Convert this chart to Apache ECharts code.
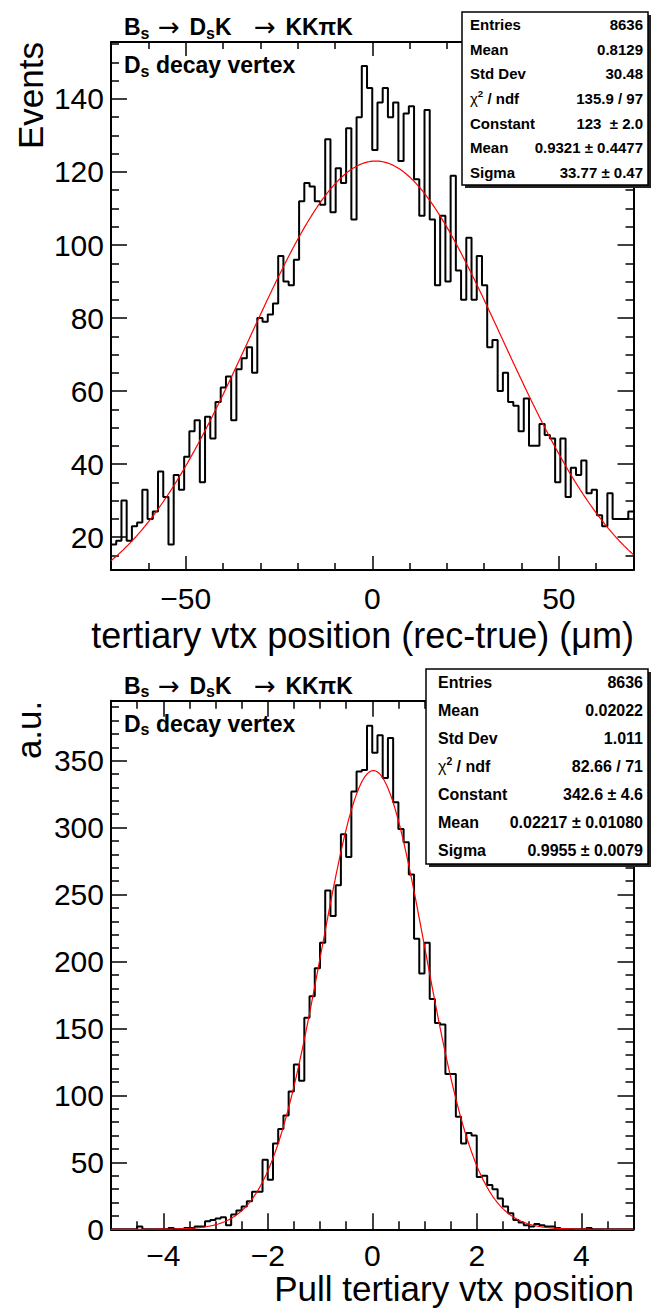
<!DOCTYPE html>
<html><head><meta charset="utf-8">
<script src="https://cdn.jsdelivr.net/npm/echarts@6/dist/echarts.min.js"></script>
<style>html,body{margin:0;padding:0;background:#fff}#c{width:654px;height:1308px}</style>
</head><body><div id="c"></div>
<script>
// ---------- data ----------
const topXRange = [-70, 70];
const topYRange = [11, 155.6];
const topCounts = [18,19,30,19,23,24,33,25,27,38, 31,18,37,33,42,49,52,35,53,47,
  57,61,64,52,66,69,72,65,80,79, 81,84,97,90,89,96,112,117,116,112,
  111,129,109,121,117,132,107,135,149,143, 126,139,143,135,139,123,136,138,118,108,
  137,107,89,108,90,119,93,85,102,85, 97,89,72,74,60,65,57,56,49,58,
  45,45,51,48,47,35,47,31,39,37, 41,32,33,26,23,32,25,25,25,27];
const topFitParams = [123, 0.9321, 33.77];   // Constant, Mean, Sigma
const topXMajor = [-50, 0, 50];
const topXMinor = [-60, -40, -30, -20, -10, 10, 20, 30, 40, 60];
const topYMajor = [20, 40, 60, 80, 100, 120, 140];
const topYMinor = [15,25,30,35,45,50,55,65,70,75,85,90,95,105,110,115,125,130,135,145,150,155];
const topStatLabels = ['Entries', 'Mean', 'Std Dev', 'CHI', 'Constant', 'Mean', 'Sigma'];
const topStatValues = ['8636', '0.8129', '30.48', '135.9 / 97', '123  \u00b1 2.0', '0.9321 \u00b1 0.4477', '33.77 \u00b1 0.47'];

const botXRange = [-5, 5];
const botYRange = [0, 394.8];
const botCounts = [0,0,0,0,0,2,0,0,0,0, 0,1,0,0,1,1,2,2,6,7,
  8,9,3,11,14,17,21,28,28,52, 37,64,75,85,103,123,111,158,174,195,
  214,253,234,257,295,278,327,342,343,376, 356,369,337,367,319,299,289,265,217,191,
  214,172,154,153,116,116,84,64,72,70, 39,40,33,30,23,17,12,7,5,3,
  2,4,3,2,2,1,0,0,0,0, 0,1,0,0,0,0,0,0,0,0];
const botFitParams = [342.6, 0.02217, 0.9955];
const botXMajor = [-4, -2, 0, 2, 4];
const botXMinor = [-4.5,-3.5,-3,-2.5,-1.5,-1,-0.5,0.5,1,1.5,2.5,3,3.5,4.5];
const botYMajor = [0, 50, 100, 150, 200, 250, 300, 350];
const botYMinor = [10,20,30,40,60,70,80,90,110,120,130,140,160,170,180,190,210,220,230,240,260,270,280,290,310,320,330,340,360,370,380,390];
const botStatLabels = ['Entries', 'Mean', 'Std Dev', 'CHI', 'Constant', 'Mean', 'Sigma'];
const botStatValues = ['8636', '0.02022', '1.011', '82.66 / 71', '342.6 \u00b1 4.6', '0.02217 \u00b1 0.01080', '0.9955 \u00b1 0.0079'];

const topXTitle = 'tertiary vtx position (rec-true) (\u03bcm)';
const topYTitle = 'Events';
const botXTitle = 'Pull tertiary vtx position';
const botYTitle = 'a.u.';

// ---------- helpers ----------
const FONT = 'Liberation Sans';
const mctx = document.createElement('canvas').getContext('2d');
function tw(t, size, weight, fam) { mctx.font = weight + ' ' + size + 'px "' + (fam || FONT) + '"'; return mctx.measureText(t).width; }
function fmt(v) { return String(v).replace('-', '\u2212'); }

function histPts(range, counts) {
  const w = (range[1] - range[0]) / counts.length;
  const pts = counts.map((c, i) => [range[0] + i * w, c]);
  pts.push([range[1], counts[counts.length - 1]]);
  return pts;
}
function fitPts(range, p) {
  const pts = [], n = 600;
  for (let i = 0; i <= n; i++) {
    const x = range[0] + (range[1] - range[0]) * i / n;
    const z = (x - p[1]) / p[2];
    pts.push([x, p[0] * Math.exp(-0.5 * z * z)]);
  }
  return pts;
}

function xAx(gi, range, pos, ticks, len, labels, line, margin) {
  return {
    type: 'value', gridIndex: gi, min: range[0], max: range[1], position: pos,
    axisLine: { show: line, onZero: false, lineStyle: { color: '#000', width: 2 } },
    axisTick: { show: true, inside: true, length: len, customValues: ticks, lineStyle: { color: '#000', width: 1.5 } },
    axisLabel: labels ? { show: true, customValues: labels, formatter: fmt, color: '#000', fontSize: 30, lineHeight: 24, fontFamily: FONT, margin: margin } : { show: false },
    splitLine: { show: false }, minorTick: { show: false }
  };
}
function yAx(gi, range, pos, ticks, len, labels, line) {
  return {
    type: 'value', gridIndex: gi, min: range[0], max: range[1], position: pos,
    axisLine: { show: line, onZero: false, lineStyle: { color: '#000', width: 2 } },
    axisTick: { show: true, inside: true, length: len, customValues: ticks, lineStyle: { color: '#000', width: 1.5 } },
    axisLabel: labels ? { show: true, customValues: labels, formatter: fmt, color: '#000', fontSize: 30, fontFamily: FONT, margin: 7 } : { show: false },
    splitLine: { show: false }, minorTick: { show: false }
  };
}

const els = [];
function txt(x, y, t, size, weight, align, valign, z, extra, fam, lh) {
  const st = { text: t, fontSize: size, fontWeight: weight, fontFamily: fam || FONT, fill: '#000',
      align: align, textAlign: align, verticalAlign: valign, textVerticalAlign: valign };
  if (lh) st.lineHeight = lh;
  const e = { type: 'text', x: x, y: y, z: z || 101, silent: true, style: st };
  if (extra) Object.assign(e, extra);
  els.push(e);
}
function seq(x, y, pieces) {
  let cx = x;
  pieces.forEach(p => {
    if (p.x !== undefined) cx = p.x;
    txt(cx, y + (p.dy || 0), p.t, p.size, p.weight || 'normal', 'left', 'middle', 101, null, p.fam);
    cx += tw(p.t, p.size, p.weight || 'normal', p.fam);
  });
}
function titleBlock(dy) {
  const B = 'bold', S = 23, s = 16, AF = 'DejaVu Sans';
  seq(124, 27 + dy, [
    { t: 'B', size: S, weight: B }, { t: 's', size: s, weight: B, dy: 6 },
    { t: '\u2192', size: 26, fam: AF, x: 158 },
    { t: ' D', size: S, weight: B, x: 183 }, { t: 's', size: s, weight: B, dy: 6 },
    { t: 'K', size: S, weight: B },
    { t: '\u2192', size: 26, fam: AF, x: 254 }, { t: ' KK\u03c0K', size: S, weight: B, x: 279 }
  ]);
  seq(124, 65 + dy, [
    { t: 'D', size: S, weight: B }, { t: 's', size: s, weight: B, dy: 6 },
    { t: ' decay vertex', size: S, weight: B }
  ]);
}
function statBox(x0, y0, x1, y1, labels, values, size, labelX) {
  els.push({ type: 'rect', z: 98, silent: true, shape: { x: x0 + 3, y: y0 + 3, width: x1 - x0, height: y1 - y0 }, style: { fill: '#222' } });
  els.push({ type: 'rect', z: 99, silent: true, shape: { x: x0, y: y0, width: x1 - x0, height: y1 - y0 }, style: { fill: '#fff', stroke: '#000', lineWidth: 1.5 } });
  const h = (y1 - y0) / labels.length;
  labels.forEach((l, k) => {
    const cy = y0 + h * (k + 0.5);
    if (l === 'CHI') {
      seq(labelX, cy, [{ t: '\u03c7', size: size }, { t: '2', size: size * 0.65, weight: 'bold', dy: -5 }, { t: ' / ndf', size: size, weight: 'bold' }]);
    } else {
      txt(labelX, cy, l, size, 'bold', 'left', 'middle');
    }
    txt(x1 - 5, cy, values[k], size, 'bold', 'right', 'middle');
  });
}

// ---------- layout pieces ----------
titleBlock(0);
titleBlock(658.5);
statBox(462, 12, 648, 185, topStatLabels, topStatValues, 15, 470);
statBox(426, 669, 648, 864, botStatLabels, botStatValues, 16, 438);
txt(30.5, 42, topYTitle, 35, 'normal', 'right', 'middle', 101, { rotation: Math.PI / 2 });
txt(28.5, 700.7, botYTitle, 35, 'normal', 'right', 'middle', 101, { rotation: Math.PI / 2 });
txt(634, 635.5, topXTitle, 36, 'normal', 'right', 'middle', 101, null, null, 30);
txt(634, 1288.5, botXTitle, 35, 'normal', 'right', 'middle', 101, null, null, 30);

const option = {
  animation: false,
  backgroundColor: '#fff',
  grid: [
    { left: 111, top: 42, width: 522.5, height: 528, show: false },
    { left: 111, top: 700.7, width: 522.5, height: 528.6, show: false }
  ],
  xAxis: [
    xAx(0, topXRange, 'bottom', topXMajor, 14, topXMajor, true, 16.5),
    xAx(0, topXRange, 'bottom', topXMinor, 7, null, false),
    xAx(0, topXRange, 'top', topXMajor, 14, null, true),
    xAx(0, topXRange, 'top', topXMinor, 7, null, false),
    xAx(1, botXRange, 'bottom', botXMajor, 16, botXMajor, true, 14.5),
    xAx(1, botXRange, 'bottom', botXMinor, 8, null, false),
    xAx(1, botXRange, 'top', botXMajor, 16, null, true),
    xAx(1, botXRange, 'top', botXMinor, 8, null, false)
  ],
  yAxis: [
    yAx(0, topYRange, 'left', topYMajor, 16, topYMajor, true),
    yAx(0, topYRange, 'left', topYMinor, 8, null, false),
    yAx(0, topYRange, 'right', topYMajor, 16, null, true),
    yAx(0, topYRange, 'right', topYMinor, 8, null, false),
    yAx(1, botYRange, 'left', botYMajor, 16, botYMajor, true),
    yAx(1, botYRange, 'left', botYMinor, 8, null, false),
    yAx(1, botYRange, 'right', botYMajor, 16, null, true),
    yAx(1, botYRange, 'right', botYMinor, 8, null, false)
  ],
  series: [
    { type: 'line', xAxisIndex: 0, yAxisIndex: 0, step: 'end', symbol: 'none', data: histPts(topXRange, topCounts), lineStyle: { color: '#000', width: 2 }, z: 3 },
    { type: 'line', xAxisIndex: 0, yAxisIndex: 0, symbol: 'none', data: fitPts(topXRange, topFitParams), lineStyle: { color: '#ff0000', width: 1.2 }, z: 4 },
    { type: 'line', xAxisIndex: 4, yAxisIndex: 4, step: 'end', symbol: 'none', data: histPts(botXRange, botCounts), lineStyle: { color: '#000', width: 2 }, z: 3 },
    { type: 'line', xAxisIndex: 4, yAxisIndex: 4, symbol: 'none', data: fitPts(botXRange, botFitParams), lineStyle: { color: '#ff0000', width: 1.2 }, z: 4 }
  ],
  graphic: { elements: els }
};
const chart = echarts.init(document.getElementById('c'), null, { renderer: 'svg' });
chart.setOption(option);
</script></body></html>
